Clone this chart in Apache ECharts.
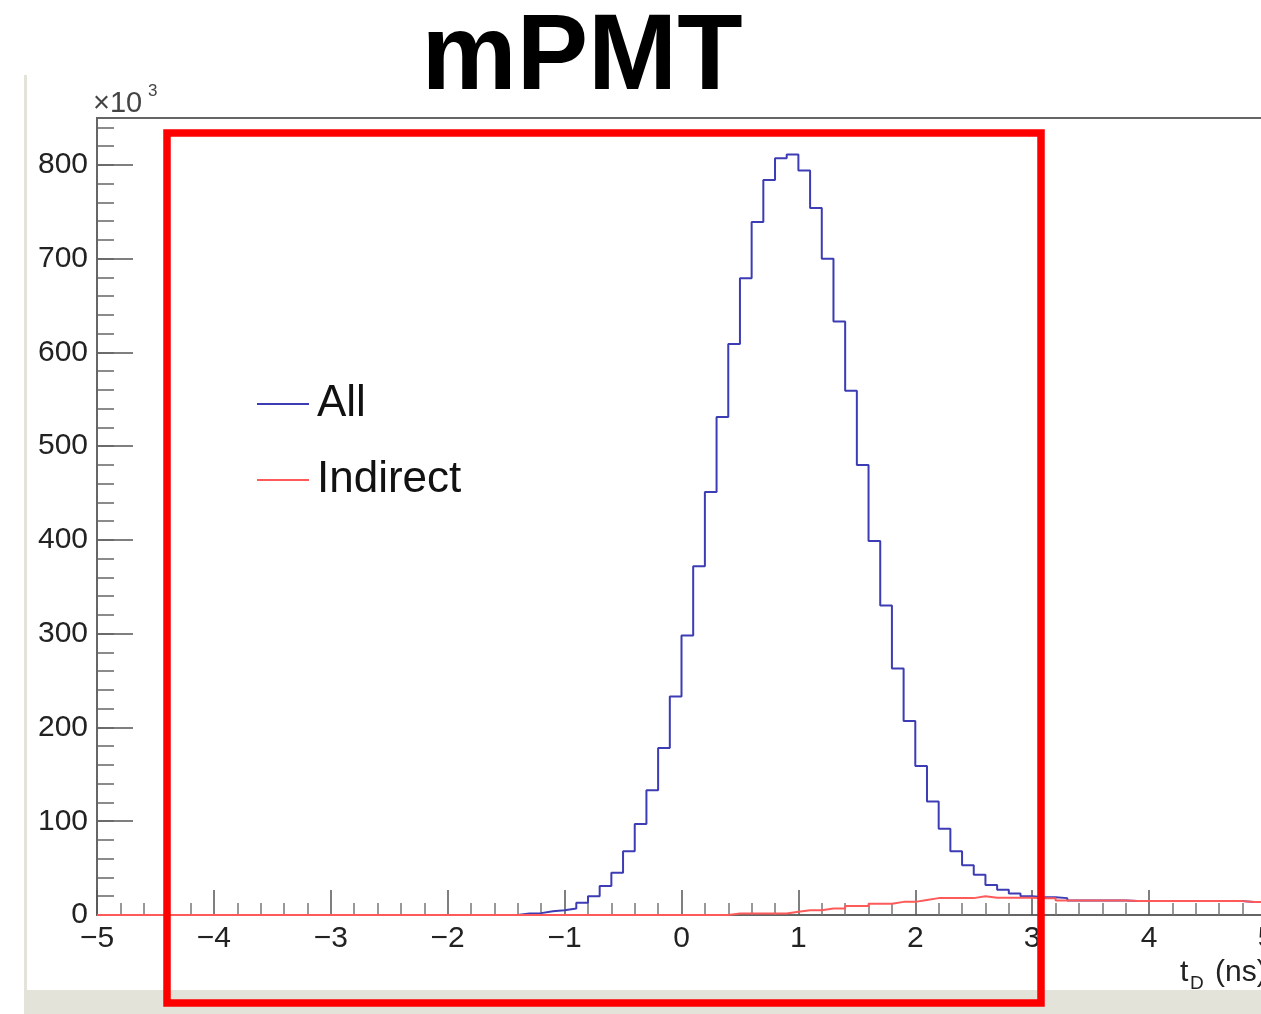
<!DOCTYPE html>
<html>
<head>
<meta charset="utf-8">
<script src="https://cdn.jsdelivr.net/npm/echarts@6/dist/echarts.min.js"></script>
<style>
  html, body { margin: 0; padding: 0; background: #fff; }
  #mpmt { width: 1261px; height: 1014px; }
</style>
</head>
<body>
<div id="mpmt"></div>
<script>
// histogram binning (t_D in ns)
var xMin = -5;
var xMax = 5;
var binWidth = 0.1;

// counts per bin, in units of 10^3
var allCounts = [
  0, 0, 0, 0, 0, 0, 0, 0, 0, 0,
  0, 0, 0, 0, 0, 0, 0, 0, 0, 0,
  0, 0, 0, 0, 0, 0, 0, 0, 0, 0,
  0, 0, 0, 0, 0, 0, 1.5, 2, 4, 5,
  7, 13, 20, 31, 45, 68, 97, 133, 178, 233,
  298, 372, 451, 531, 609, 679, 739, 784, 807, 811,
  794, 754, 700, 633, 559, 480, 399, 330, 263, 207,
  159, 121, 92, 68, 53, 43, 32, 27, 23, 20,
  19, 19, 18, 15.5, 15.5, 15.5, 15.5, 15.5, 14.8, 14.8,
  14.8, 14.8, 14.8, 14.8, 14.8, 14.8, 14.8, 14.8, 13.8, 13.8
];
var indirectCounts = [
  0, 0, 0, 0, 0, 0, 0, 0, 0, 0,
  0, 0, 0, 0, 0, 0, 0, 0, 0, 0,
  0, 0, 0, 0, 0, 0, 0, 0, 0, 0,
  0, 0, 0, 0, 0, 0, 0, 0, 0, 0,
  0, 0, 0, 0, 0, 0, 0, 0, 0, 0,
  0, 0, 0, 0, 1.5, 1.5, 1.5, 1.5, 1.5, 3.5,
  5, 5, 7, 7, 9.5, 9.5, 12, 12, 14, 14,
  16, 18, 18, 18, 18, 20, 18.5, 18.5, 18.5, 18.5,
  17.8, 17.8, 15.5, 15.5, 15.5, 15.5, 15.5, 15.5, 14.8, 14.8,
  14.8, 14.8, 14.8, 14.8, 14.8, 14.8, 14.8, 14.8, 13.8, 13.8
];
var seriesNames = ['All', 'Indirect'];
var seriesColors = ['#3c3cb4', '#ff5a5a'];

var yMax = 850;
var font = 'Liberation Sans, Arial, sans-serif';

// turn bin contents into [lowEdge, value] points for a step line
function toSteps(counts) {
  var pts = [];
  for (var i = 0; i < counts.length; i++) {
    pts.push([+(xMin + i * binWidth).toFixed(2), counts[i]]);
  }
  pts.push([xMax, counts[counts.length - 1]]);
  return pts;
}

function minus(v) {
  return String(v).replace('-', '\u2212');
}

var myChart = echarts.init(document.getElementById('mpmt'));

var option = {
  backgroundColor: '#fff',
  animation: false,
  grid: {
    left: 97, right: -5, top: 118, bottom: 99,
    outerBoundsMode: 'none', containLabel: false,
    show: true, borderColor: '#666', borderWidth: 2
  },
  legend: {
    orient: 'vertical',
    left: 252, top: 377,
    icon: 'rect',
    itemWidth: 52, itemHeight: 2,
    itemGap: 32,
    data: seriesNames,
    textStyle: { fontFamily: font, fontSize: 44, color: '#111', padding: [0, 0, 0, 3] }
  },
  xAxis: {
    type: 'value',
    min: xMin, max: xMax, interval: 1,
    axisLine: { show: true, onZero: false, lineStyle: { color: '#666', width: 1.5 } },
    axisTick: { show: true, inside: true, length: 25, lineStyle: { color: '#555', width: 1.5 } },
    minorTick: { show: true, splitNumber: 5, length: 12, lineStyle: { color: '#777', width: 1.5 } },
    splitLine: { show: false },
    axisLabel: {
      fontFamily: font, fontSize: 30, color: '#222', margin: 9,
      showMinLabel: true, showMaxLabel: true,
      formatter: minus
    }
  },
  yAxis: [{
    type: 'value', position: 'left',
    min: 0, max: yMax, interval: 100,
    axisLine: { show: true, onZero: false, lineStyle: { color: '#666', width: 2 } },
    axisTick: { show: true, inside: true, length: 36, lineStyle: { color: '#555', width: 1.5 } },
    splitLine: { show: false },
    axisLabel: {
      fontFamily: font, fontSize: 30, color: '#222', margin: 9,
      showMaxLabel: false
    }
  }, {
    // minor ticks every 20
    type: 'value', position: 'left', offset: 0,
    min: 0, max: yMax, interval: 20,
    axisLine: { show: false, onZero: false },
    axisTick: { show: true, inside: true, length: 17, lineStyle: { color: '#666', width: 1.5 } },
    splitLine: { show: false },
    axisLabel: { show: false }
  }],
  series: [{
    name: seriesNames[0],
    type: 'line',
    step: 'end',
    showSymbol: false,
    color: seriesColors[0],
    lineStyle: { width: 2, color: seriesColors[0] },
    data: toSteps(allCounts),
    z: 3
  }, {
    name: seriesNames[1],
    type: 'line',
    step: 'end',
    showSymbol: false,
    color: seriesColors[1],
    lineStyle: { width: 2, color: seriesColors[1] },
    data: toSteps(indirectCounts),
    z: 4
  }],
  graphic: [
    // canvas edge (grey pad border)
    { type: 'rect', left: 24, top: 990, shape: { width: 1237, height: 24 }, style: { fill: '#e3e3d9' }, z: 0 },
    { type: 'rect', left: 24, top: 75, shape: { width: 3, height: 915 }, style: { fill: '#e3e3d9' }, z: 0 },
    // title
    { type: 'text', x: 582, y: 59, style: {
      text: 'mPMT', fontFamily: font, fontWeight: 'bold', fontSize: 107,
      fill: '#000', align: 'center', verticalAlign: 'middle' } },
    // y-axis exponent
    { type: 'text', x: 93, y: 104, style: {
      text: '\u00d710', fontFamily: font, fontSize: 29, fill: '#444', align: 'left', verticalAlign: 'middle' } },
    { type: 'text', x: 148, y: 91, style: {
      text: '3', fontFamily: font, fontSize: 17, fill: '#444', align: 'left', verticalAlign: 'middle' } },
    // x-axis title t_D (ns)
    { type: 'text', x: 1180, y: 973, style: {
      text: 't', fontFamily: font, fontSize: 30, fill: '#222', align: 'left', verticalAlign: 'middle' } },
    { type: 'text', x: 1190, y: 984, style: {
      text: 'D', fontFamily: font, fontSize: 19, fill: '#222', align: 'left', verticalAlign: 'middle' } },
    { type: 'text', x: 1215, y: 973, style: {
      text: '(ns)', fontFamily: font, fontSize: 30, fill: '#222', align: 'left', verticalAlign: 'middle' } },
    // red highlight box
    { type: 'rect', shape: { x: 167, y: 133, width: 874, height: 870 },
      style: { fill: 'none', stroke: '#ff0000', lineWidth: 7.5 }, z: 100 }
  ]
};

myChart.setOption(option);
</script>
</body>
</html>
